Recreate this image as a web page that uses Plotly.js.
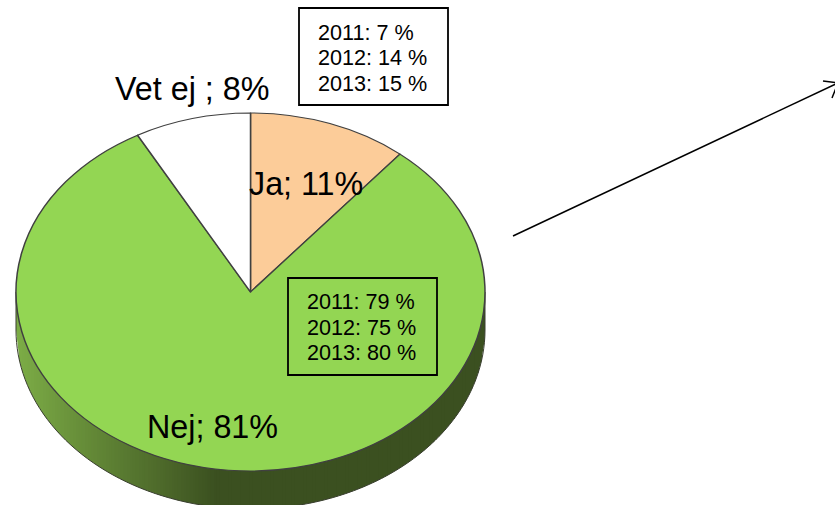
<!DOCTYPE html>
<html>
<head>
<meta charset="utf-8">
<script src="https://cdn.plot.ly/plotly-3.0.1.min.js"></script>
<style>html,body{margin:0;padding:0;background:#fff;overflow:hidden}#c{width:835px;height:505px}</style>
</head>
<body>
<div id="c"></div>
<script>
// Data
var categories = ['Ja', 'Nej', 'Vet ej '];
var shares = [11, 81, 8];
var sliceColors = ['#FCCC99', '#93D653', '#FFFFFF'];
var years = ['2011', '2012', '2013'];
var jaHistory = [7, 14, 15];
var nejHistory = [79, 75, 80];

// Layout helpers (pixels)
var W = 835, H = 505;
var cx = 250.5, cy = 292, rx = 234.5, ry = 179, depth = 38;
var px = function (x) { return x / W; };
var py = function (y) { return 1 - y / H; };
var FONT = 'Liberation Sans, Arial, sans-serif';

function lerp(a, b, t) { return Math.round(a + (b - a) * t); }
function sideColor(x) {
  var stops = [[16, [124, 172, 70]], [100, [96, 132, 53]], [215, [59, 80, 32]], [485, [59, 80, 32]]];
  for (var i = 0; i < stops.length - 1; i++) {
    if (x <= stops[i + 1][0]) {
      var t = (x - stops[i][0]) / (stops[i + 1][0] - stops[i][0]);
      var a = stops[i][1], b = stops[i + 1][1];
      return 'rgb(' + lerp(a[0], b[0], t) + ',' + lerp(a[1], b[1], t) + ',' + lerp(a[2], b[2], t) + ')';
    }
  }
  return 'rgb(59,80,32)';
}
function yOn(x) {
  var u = Math.min(1, Math.abs(x - cx) / rx);
  return ry * Math.sqrt(1 - u * u);
}
function P(x, y) { return px(x).toFixed(5) + ',' + py(y).toFixed(5); }

var shapes = [];
// extruded side of the pie, cut in thin vertical strips for the gradient
for (var x = cx - rx; x < cx + rx; x += 3) {
  var x2 = Math.min(x + 3.6, cx + rx);
  shapes.push({
    type: 'path', xref: 'paper', yref: 'paper', layer: 'below',
    path: 'M' + P(x, cy) + 'L' + P(x2, cy) + 'L' + P(x2, cy + yOn(x2) + depth) + 'L' + P(x, cy + yOn(x) + depth) + 'Z',
    fillcolor: sideColor(x), line: { width: 0 }
  });
}
// outline of the side
var rim = 'M' + P(cx - rx, cy);
for (var a = 0; a <= 180; a += 2) {
  var t = a * Math.PI / 180;
  rim += 'L' + P(cx - rx * Math.cos(t), cy + depth + ry * Math.sin(t));
}
rim += 'L' + P(cx + rx, cy);
shapes.push({ type: 'path', xref: 'paper', yref: 'paper', layer: 'below', path: rim, line: { color: '#3a3f30', width: 1 } });

function box(x0, y0, x1, y1) {
  return { type: 'rect', xref: 'paper', yref: 'paper', layer: 'above',
    x0: px(x0), x1: px(x1), y0: py(y1), y1: py(y0), line: { color: '#000', width: 1.8 }, fillcolor: 'rgba(0,0,0,0)' };
}
function seg(x0, y0, x1, y1) {
  return { type: 'line', xref: 'paper', yref: 'paper', layer: 'above',
    x0: px(x0), x1: px(x1), y0: py(y0), y1: py(y1), line: { color: '#000', width: 1.5 } };
}
shapes.push(box(299, 8, 448, 105));
shapes.push(box(288, 278, 437, 375));
shapes.push(seg(513, 236, 838, 83));
shapes.push(seg(823, 81, 838, 83));
shapes.push(seg(832, 98, 838, 83));

function label(text, x, y, size, anchor) {
  return { text: text, xref: 'paper', yref: 'paper', x: px(x), y: py(y), xanchor: anchor, yanchor: 'middle',
    showarrow: false, borderpad: 0, font: { family: FONT, size: size, color: '#000' } };
}
var annotations = [
  label(categories[2] + '; ' + shares[2] + '%', 191.5, 89, 32.3, 'center'),
  label(categories[0] + '; ' + shares[0] + '%', 305.5, 184, 32.3, 'center'),
  label(categories[1] + '; ' + shares[1] + '%', 212.5, 427, 32.3, 'center')
];
years.forEach(function (yr, i) {
  annotations.push(label(yr + ': ' + jaHistory[i] + ' %', 317, 32 + i * 25.7, 21.6, 'left'));
  annotations.push(label(yr + ': ' + nejHistory[i] + ' %', 306, 301.4 + i * 25.7, 21.6, 'left'));
});

var pieCy = H / 2;
var trace = {
  type: 'pie', labels: categories, values: shares, sort: false, direction: 'clockwise', rotation: 0,
  textinfo: 'none', hoverinfo: 'label+percent', showlegend: false,
  marker: { colors: sliceColors, line: { color: '#404040', width: 1.5 } },
  domain: { x: [px(cx - rx), px(cx + rx)], y: [py(pieCy + rx), py(pieCy - rx)] }
};
var layout = {
  width: W, height: H, margin: { l: 0, r: 0, t: 0, b: 0 }, autosize: false,
  paper_bgcolor: '#fff', plot_bgcolor: '#fff', shapes: shapes, annotations: annotations, showlegend: false
};
Plotly.newPlot('c', [trace], layout, { displayModeBar: false, staticPlot: true }).then(function (gd) {
  // a tilted pie: flatten the round pie into the ellipse of the reference
  var s = ry / rx;
  var g = gd.querySelector('.pielayer');
  g.setAttribute('transform', 'translate(0,' + cy + ') scale(1,' + s + ') translate(0,' + (-pieCy) + ')');
});
</script>
</body>
</html>
